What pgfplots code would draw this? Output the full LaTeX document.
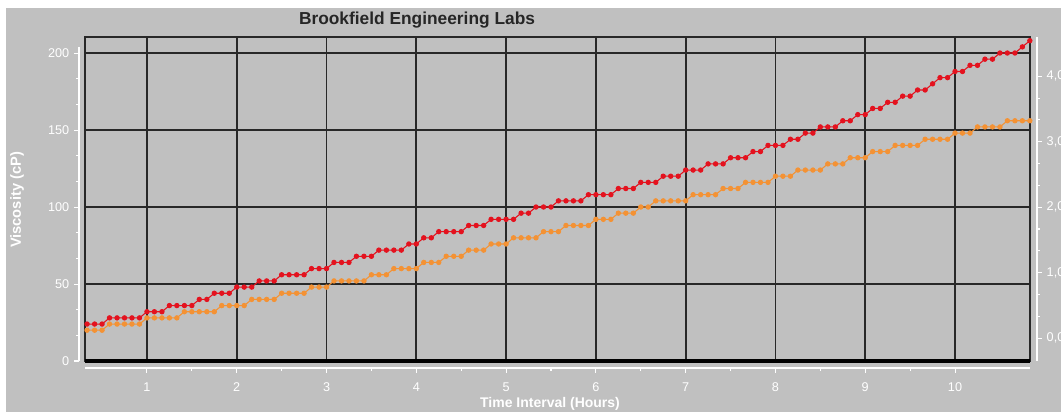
\documentclass[border=0pt]{standalone}
\usepackage{pgfplots}
\pgfplotsset{compat=1.18}
\usepackage{pgfplotstable}
\usepackage{fontspec}
\setmainfont{Liberation Sans}
\definecolor{bg}{RGB}{192,192,192}
\definecolor{gridc}{RGB}{40,40,40}
\definecolor{redline}{RGB}{228,18,30}
\definecolor{orangeline}{RGB}{244,146,52}

% time (h), viscosity of the two runs (cP)
\pgfplotstableread{
t red orange
0.333 24 20
0.417 24 20
0.500 24 20
0.583 28 24
0.667 28 24
0.750 28 24
0.833 28 24
0.917 28 24
1.000 32 28
1.083 32 28
1.167 32 28
1.250 36 28
1.333 36 28
1.417 36 32
1.500 36 32
1.583 40 32
1.667 40 32
1.750 44 32
1.833 44 36
1.917 44 36
2.000 48 36
2.083 48 36
2.167 48 40
2.250 52 40
2.333 52 40
2.417 52 40
2.500 56 44
2.583 56 44
2.667 56 44
2.750 56 44
2.833 60 48
2.917 60 48
3.000 60 48
3.083 64 52
3.167 64 52
3.250 64 52
3.333 68 52
3.417 68 52
3.500 68 56
3.583 72 56
3.667 72 56
3.750 72 60
3.833 72 60
3.917 76 60
4.000 76 60
4.083 80 64
4.167 80 64
4.250 84 64
4.333 84 68
4.417 84 68
4.500 84 68
4.583 88 72
4.667 88 72
4.750 88 72
4.833 92 76
4.917 92 76
5.000 92 76
5.083 92 80
5.167 96 80
5.250 96 80
5.333 100 80
5.417 100 84
5.500 100 84
5.583 104 84
5.667 104 88
5.750 104 88
5.833 104 88
5.917 108 88
6.000 108 92
6.083 108 92
6.167 108 92
6.250 112 96
6.333 112 96
6.417 112 96
6.500 116 100
6.583 116 100
6.667 116 104
6.750 120 104
6.833 120 104
6.917 120 104
7.000 124 104
7.083 124 108
7.167 124 108
7.250 128 108
7.333 128 108
7.417 128 112
7.500 132 112
7.583 132 112
7.667 132 116
7.750 136 116
7.833 136 116
7.917 140 116
8.000 140 120
8.083 140 120
8.167 144 120
8.250 144 124
8.333 148 124
8.417 148 124
8.500 152 124
8.583 152 128
8.667 152 128
8.750 156 128
8.833 156 132
8.917 160 132
9.000 160 132
9.083 164 136
9.167 164 136
9.250 168 136
9.333 168 140
9.417 172 140
9.500 172 140
9.583 176 140
9.667 176 144
9.750 180 144
9.833 184 144
9.917 184 144
10.000 188 148
10.083 188 148
10.167 192 148
10.250 192 152
10.333 196 152
10.417 196 152
10.500 200 152
10.583 200 156
10.667 200 156
10.750 204 156
10.833 208 156
}\viscdata

\pgfplotsset{
  whiteticks/.style={
    scale only axis,
    axis line style={white, line width=0.8pt},
    tick style={white, line width=0.8pt},
    tick align=outside,
    major tick length=3.75pt,
    minor tick length=2.2pt,
    ticklabel style={white, font=\fontsize{9.5}{10}\selectfont},
    /pgf/number format/assume math mode=true,
  },
}

\begin{document}
\begin{tikzpicture}
\fill[white] (-63.75pt,-38.25pt) rectangle (732pt,270.75pt);
\fill[bg] (-59.25pt,-38.25pt) rectangle (732pt,264.75pt);

\begin{axis}[
  at={(0,0)}, anchor=south west,
  scale only axis, width=708.75pt, height=243pt,
  xmin=0.31, xmax=10.835, ymin=0, ymax=210.4,
  xtick={1,...,10}, ytick={50,100,150,200},
  xticklabels={}, yticklabels={},
  tick style={draw=none},
  grid=major,
  major grid style={gridc, line width=1.3pt},
  axis line style={gridc, line width=1.3pt},
  clip=false,
]
\addplot[redline, line width=0.8pt, mark=*, mark size=1.6pt,
  mark options={fill=redline, draw=redline}] table[x=t, y=red] {\viscdata};
\addplot[orangeline, line width=0.8pt, mark=*, mark size=1.6pt,
  mark options={fill=orangeline, draw=orangeline}] table[x=t, y=orange] {\viscdata};
\draw[black, line width=2.4pt] (rel axis cs:0,0) -- (rel axis cs:1,0);
\end{axis}

% left value axis
\begin{axis}[whiteticks,
  at={(-4.5pt,0)}, anchor=south west, width=1pt, height=235.5pt,
  ymin=0, ymax=204, hide x axis, axis y line*=left,
  ytick={0,50,...,200}, minor y tick num=2,
]
\addplot[draw=none] coordinates {(0,0)};
\end{axis}

% time axis
\begin{axis}[whiteticks,
  at={(0,-5.25pt)}, anchor=south west, width=708.75pt, height=1pt,
  xmin=0.31, xmax=10.835, hide y axis, axis x line*=bottom,
  xtick={1,...,10}, minor x tick num=1,
  xticklabel style={yshift=-3.5pt},
]
\addplot[draw=none] coordinates {(1,0)};
\end{axis}

% right axis
\begin{axis}[whiteticks,
  at={(714pt,0)}, anchor=south east, width=1pt, height=243pt,
  ymin=-0.35, ymax=4.6, hide x axis, axis y line*=right,
  ytick={0,1,2,3,4}, minor y tick num=2,
  yticklabel style={/pgf/number format/.cd, fixed, fixed zerofill, precision=1, use comma},
]
\addplot[draw=none] coordinates {(0,0)};
\end{axis}

\node[font=\bfseries\fontsize{13}{14}\selectfont, text=black!85] at (249pt,256pt) {Brookfield Engineering Labs};
\node[font=\bfseries\fontsize{11}{12}\selectfont, text=white, rotate=90] at (-51pt,120.75pt) {Viscosity (cP)};
\node[font=\bfseries\fontsize{10.5}{12}\selectfont, text=white] at (348.75pt,-32.25pt) {Time Interval (Hours)};

\pgfresetboundingbox
\path[use as bounding box] (-63.75pt,-38.25pt) rectangle (732pt,270.75pt);
\end{tikzpicture}
\end{document}
